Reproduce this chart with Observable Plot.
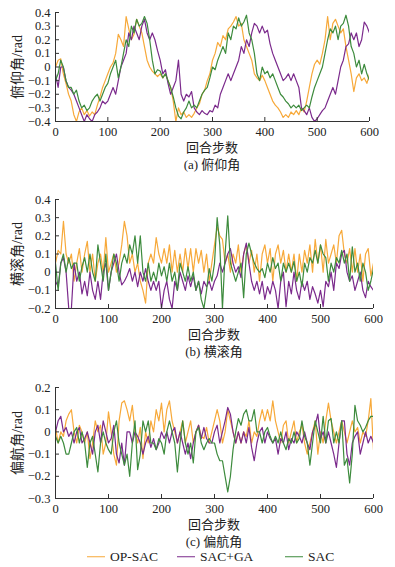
<!DOCTYPE html>
<html>
<head>
<meta charset="utf-8">
<script src="https://cdn.jsdelivr.net/npm/d3@7"></script>
<script src="https://cdn.jsdelivr.net/npm/@observablehq/plot@0.6"></script>
<style>
  html, body { margin: 0; padding: 0; background: #fff; }
  #root { position: relative; width: 395px; height: 567px; overflow: hidden; background: #fff;
          font-family: "Liberation Serif", "Times New Roman", "Noto Sans CJK SC", serif; color: #222; }
  .panel { position: absolute; left: 0; }
  .lbl { position: absolute; white-space: nowrap; transform: translate(-50%, -50%); line-height: 1; }
  .leg { position: absolute; top: 557px; transform: translateY(-50%); font-size: 13.5px; line-height: 1; white-space: nowrap; display: flex; align-items: center; }
  .leg i { display: inline-block; width: 18px; height: 0; border-top: 1.3px solid; margin-right: 5px; }
</style>
</head>
<body>
<div id="root"></div>
<script>
// ---------- data ----------
const steps = d3.range(0, 601, 5);
const seriesNames = ["OP-SAC", "SAC+GA", "SAC"];
const seriesColors = ["#f7a93a", "#7b2a8c", "#3d8b3d"];
const xTicks = [0, 100, 200, 300, 400, 500, 600];

// (a) 俯仰角 pitch
const pitchOP = [
  0, 0.05, 0.06, -0.05, -0.12, -0.2, -0.25, -0.35, -0.4, -0.33,
  -0.3, -0.35, -0.32, -0.36, -0.33, -0.35, -0.28, -0.22, -0.15, -0.1,
  -0.05, 0, 0.03, 0.1, 0.24, 0.2, 0.15, 0.37, 0.28, 0.2,
  0.24, 0.35, 0.3, 0.25, 0.15, 0.05, 0, -0.03, -0.05, -0.07,
  -0.05, -0.08, -0.05, -0.1, -0.15, -0.25, -0.4, -0.3, -0.35, -0.33,
  -0.37, -0.35, -0.37, -0.34, -0.3, -0.27, -0.2, -0.17, -0.1, -0.05,
  0.05, 0.1, 0.18, 0.15, 0.23, 0.2, 0.28, 0.3, 0.33, 0.37,
  0.3, 0.32, 0.2, 0.15, 0.1, 0.05, -0.05, -0.08, -0.1, -0.06,
  -0.1, -0.15, -0.2, -0.25, -0.28, -0.3, -0.33, -0.37, -0.35, -0.37,
  -0.33, -0.35, -0.32, -0.35, -0.3, -0.33, -0.25, -0.15, -0.05, 0.02,
  0.05, 0.02, 0.1, 0.2, 0.37, 0.2, 0.32, 0.35, 0.3, 0.25,
  0.28, 0.15, 0.05, -0.05, -0.18, -0.08, -0.05, -0.1, -0.08, -0.12,
  -0.05
];
const pitchGA = [
  -0.05, -0.15, 0, 0, -0.1, -0.15, -0.17, -0.2, -0.25, -0.3,
  -0.35, -0.4, -0.35, -0.38, -0.4, -0.35, -0.33, -0.3, -0.25, -0.27,
  -0.25, -0.2, -0.15, -0.2, -0.1, 0, 0.05, 0.1, 0.25, 0.2,
  0.3, 0.25, 0.2, 0.3, 0.35, 0.25, 0.2, 0.25, 0.2, 0.12,
  0.05, -0.05, -0.02, -0.12, -0.2, -0.15, -0.1, 0.05, -0.2, -0.25,
  -0.2, -0.22, -0.18, -0.3, -0.33, -0.35, -0.32, -0.34, -0.35, -0.32,
  -0.33, -0.28, -0.3, -0.2, -0.15, -0.1, -0.05, -0.1, -0.05, 0,
  0.05, 0.15, 0.1, 0.2, 0.15, 0.25, 0.32, 0.3, 0.25, 0.3,
  0.25, 0.27, 0.17, 0.1, 0.05, 0, -0.05, -0.1, -0.08, -0.05,
  -0.1, -0.05, -0.1, -0.15, -0.3, -0.32, -0.35, -0.3, -0.37, -0.4,
  -0.38, -0.35, -0.32, -0.3, -0.25, -0.2, -0.15, -0.2, -0.1, 0,
  0.05, 0.15, 0.17, 0.25, 0.2, 0.25, 0.15, 0.2, 0.33, 0.3,
  0.25
];
const pitchSAC = [
  -0.1, -0.05, 0.05, 0, -0.1, -0.15, -0.15, -0.2, -0.17, -0.25,
  -0.3, -0.28, -0.32, -0.3, -0.25, -0.22, -0.2, -0.25, -0.2, -0.15,
  -0.12, -0.05, 0, 0.05, -0.08, 0, 0.1, 0.2, 0.15, 0.3,
  0.25, 0.35, 0.3, 0.32, 0.37, 0.32, 0.2, 0.05, -0.05, -0.02,
  -0.03, -0.08, -0.05, -0.1, -0.15, -0.22, -0.3, -0.36, -0.38, -0.33,
  -0.3, -0.25, -0.3, -0.28, -0.3, -0.25, -0.2, -0.17, -0.15, -0.08,
  0, -0.02, 0.05, 0.1, 0.15, 0.1, 0.25, 0.2, 0.3, 0.28,
  0.36, 0.3, 0.33, 0.38, 0.25, 0.2, 0.1, -0.05, -0.1, 0,
  -0.05, -0.03, -0.08, -0.05, -0.1, -0.15, -0.2, -0.22, -0.25, -0.27,
  -0.3, -0.28, -0.3, -0.28, -0.32, -0.3, -0.28, -0.3, -0.22, -0.15,
  -0.1, -0.05, 0, 0.1, 0.2, 0.28, 0.25, 0.3, 0.2, 0.3,
  0.32, 0.38, 0.3, 0.15, 0.1, 0, 0.05, -0.05, 0.02, -0.05,
  -0.1
];

// (b) 横滚角 roll
const rollOP = [
  0.05, 0.12, 0.1, 0.28, 0.1, 0.05, 0.1, -0.05, 0.05, 0.13,
  0, 0.1, 0.17, 0, 0.1, -0.05, 0.05, 0.1, 0, 0.19,
  0, 0.05, 0.1, 0, 0.05, 0.15, 0.28, 0.2, 0.05, 0.1,
  0, 0.05, -0.05, -0.1, -0.17, 0.05, 0.1, 0.05, 0.19, 0.1,
  0.05, 0.13, 0.05, 0.15, 0, 0.12, 0, 0.1, 0, 0.13,
  0.02, 0.13, 0, 0.13, 0.05, 0.12, 0, 0.1, -0.05, 0.05,
  0.15, 0.25, 0.2, 0.18, 0.05, 0.1, 0, 0.1, 0.05, 0.15,
  0, 0.1, 0.15, 0.05, 0.12, 0, 0.1, -0.05, 0.1, 0.15,
  0.05, 0.13, -0.05, 0.1, 0.15, 0.05, 0.12, 0, 0.1, 0,
  0.1, -0.05, 0.1, 0, 0.12, 0.05, 0.15, 0, 0.18, 0.05,
  0.15, 0, 0.18, 0.05, 0.1, 0.15, 0.05, 0.2, 0.23, 0.1,
  0.05, 0.13, 0, 0.13, 0, 0.1, -0.05, 0.1, 0.13, -0.02,
  0.05
];
const rollGA = [
  -0.05, -0.08, 0.05, 0.08, 0, -0.2, -0.2, 0.05, -0.05, 0,
  -0.12, -0.05, -0.13, 0, -0.1, -0.15, -0.05, -0.15, 0, 0.05,
  -0.1, 0, 0.05, 0.1, 0, -0.07, -0.05, -0.02, 0.02, -0.05,
  0, -0.08, 0, -0.05, 0.02, -0.05, -0.1, -0.05, -0.1, -0.05,
  -0.2, -0.1, -0.05, -0.15, -0.2, -0.05, -0.1, 0, -0.05, -0.1,
  -0.02, -0.08, -0.02, -0.1, -0.05, -0.12, -0.05, -0.08, -0.05, -0.1,
  -0.05, -0.02, 0.05, 0, 0.05, 0.1, 0.13, 0.05, 0, 0.03,
  -0.03, 0.1, 0.16, 0.05, -0.05, -0.1, -0.05, -0.12, -0.05, -0.15,
  -0.08, -0.12, -0.05, -0.1, -0.2, -0.05, 0, -0.19, -0.05, -0.12,
  0, -0.1, -0.15, -0.05, -0.1, -0.05, -0.15, -0.08, -0.12, -0.17,
  -0.1, -0.19, -0.05, -0.08, 0, -0.1, 0.05, 0.02, 0.1, 0.12,
  0, -0.05, -0.02, -0.1, -0.05, 0, -0.1, -0.14, -0.05, -0.08,
  -0.1
];
const rollSAC = [
  0.05, -0.1, 0.05, 0.1, 0, 0.08, 0.02, 0.05, 0.05, -0.05,
  0.03, 0.08, 0, 0.1, 0, -0.05, 0.15, 0.05, -0.05, 0.1,
  -0.1, 0, 0.1, 0.05, -0.05, 0.05, 0.1, 0.05, 0.15, 0.1,
  0.2, 0.05, 0.2, 0, -0.05, 0.05, -0.05, 0, -0.05, 0.05,
  -0.02, 0.03, -0.05, 0.05, -0.05, 0, -0.1, 0.05, 0, -0.05,
  0.03, -0.05, 0, -0.1, -0.05, -0.15, -0.2, -0.1, 0.02, -0.05,
  0.05, 0.3, 0.15, -0.2, 0.1, 0.31, 0.05, 0, -0.05, 0,
  0.05, -0.14, 0.1, 0.16, 0.1, 0.05, 0.02, 0, 0.02, -0.03,
  0.05, 0, 0.08, 0.02, 0.05, -0.05, 0.05, 0, 0.05, 0,
  0.06, -0.05, 0, -0.08, 0.05, 0, 0.08, 0.05, 0.12, 0.05,
  0.15, 0.1, 0.08, -0.05, 0.05, 0, 0.08, 0.05, 0.12, 0.05,
  0.1, -0.05, 0.14, 0, 0.05, -0.05, 0.05, 0, -0.1, -0.05,
  0.02
];

// (c) 偏航角 yaw
const yawOP = [
  0.02, -0.05, 0, -0.02, 0.05, 0.08, 0.1, 0, -0.05, 0.03,
  0, -0.05, 0, -0.12, -0.05, 0.05, 0, 0.03, -0.1, -0.05,
  0.09, 0, -0.1, -0.15, 0.05, 0.13, 0.14, 0.1, 0.05, 0.12,
  0, -0.05, 0.02, -0.12, 0, -0.05, 0.05, 0, 0.1, 0.05,
  0.13, 0, 0.1, 0.14, 0.05, 0, -0.05, 0, 0.05, -0.05,
  0, 0.05, -0.05, 0, 0.03, -0.02, -0.03, 0.02, -0.05, 0,
  0.05, 0.1, 0.05, -0.05, 0, 0.1, 0.05, 0, -0.05, 0,
  -0.05, 0, -0.02, 0.05, -0.05, 0, -0.02, 0.05, 0.1, 0.05,
  0.1, 0.05, 0.14, 0.05, 0, -0.05, 0.03, 0.05, -0.05, 0,
  0.05, -0.05, 0, 0.03, -0.05, -0.1, -0.05, 0, 0.05, -0.1,
  0, -0.05, 0.05, 0.13, 0.05, 0, -0.05, 0, 0.05, 0,
  -0.05, 0, 0.05, 0, 0.02, -0.05, 0, -0.02, 0.05, 0.15,
  -0.08
];
const yawGA = [
  0, 0.05, 0.07, 0, 0.02, -0.02, 0, -0.05, 0, 0.02,
  -0.05, -0.03, 0, -0.05, -0.1, 0, 0.03, -0.05, 0.05, 0,
  -0.05, -0.03, 0.03, -0.1, -0.14, -0.05, -0.15, 0, 0, -0.05,
  0, -0.02, -0.05, -0.1, -0.05, -0.02, -0.07, -0.03, -0.08, -0.05,
  0, -0.03, 0, -0.05, 0, 0.02, -0.05, 0, -0.05, -0.1,
  -0.05, -0.12, -0.05, 0, 0.03, -0.03, 0.02, -0.03, -0.05, -0.05,
  0, 0.03, -0.05, 0, 0.05, 0.11, 0.08, 0, -0.05, 0,
  -0.05, 0, -0.05, 0.02, -0.07, -0.13, -0.05, 0, 0.02, -0.05,
  0, -0.03, -0.05, -0.03, -0.1, -0.03, -0.05, 0, -0.08, -0.03,
  -0.05, 0, -0.02, -0.05, 0, -0.05, -0.08, 0, 0.03, 0.08,
  -0.03, 0, -0.05, 0, -0.05, -0.1, -0.16, -0.05, 0.05, 0.05,
  -0.1, -0.15, -0.05, -0.02, 0, -0.1, -0.05, 0, -0.05, -0.02,
  -0.05
];
const yawSAC = [
  -0.02, -0.05, -0.02, -0.05, -0.1, -0.1, -0.05, 0, 0.02, -0.05,
  0, -0.05, -0.16, -0.05, -0.02, -0.1, -0.18, -0.05, 0, -0.05,
  -0.08, -0.1, 0, 0.05, -0.05, -0.1, -0.15, -0.1, -0.2, -0.05,
  0.05, -0.17, -0.1, 0.05, 0, 0.05, -0.05, -0.05, -0.08, -0.03,
  -0.05, -0.1, 0, 0.05, 0, -0.05, -0.18, -0.05, 0.05, -0.05,
  -0.1, -0.05, -0.14, 0, 0.02, -0.05, -0.08, -0.05, -0.03, -0.05,
  -0.05, -0.1, -0.13, -0.13, -0.2, -0.27, -0.2, -0.08, 0, 0.06,
  0.03, 0.08, 0.1, 0.05, 0.05, 0.1, 0, 0, -0.05, 0,
  0.02, -0.02, -0.05, -0.02, -0.05, 0, -0.05, -0.08, -0.03, -0.05,
  0, -0.05, -0.03, 0.05, -0.02, -0.05, -0.15, -0.05, 0.05, 0,
  -0.05, 0.07, -0.05, 0.05, 0.06, -0.05, 0, -0.05, 0.05, -0.15,
  -0.12, -0.23, -0.1, 0.12, 0.05, 0.03, 0, 0.02, 0.05, 0.07,
  0.07
];

const pitchTicks = [-0.4, -0.3, -0.2, -0.1, 0, 0.1, 0.2, 0.3, 0.4];
const rollTicks = [-0.2, -0.1, 0, 0.1, 0.2, 0.3, 0.4];
const yawTicks = [-0.3, -0.2, -0.1, 0, 0.1, 0.2];

const panels = [
  {top: 0,   mt: 12, mb: 19, mr: 26, ylabel: "俯仰角/rad", caption: "(a) 俯仰角", ticks: pitchTicks, series: [pitchOP, pitchGA, pitchSAC]},
  {top: 187, mt: 12, mb: 19, mr: 22, ylabel: "横滚角/rad", caption: "(b) 横滚角", ticks: rollTicks,  series: [rollOP, rollGA, rollSAC]},
  {top: 375, mt: 12, mb: 17, mr: 22, ylabel: "偏航角/rad", caption: "(c) 偏航角", ticks: yawTicks,   series: [yawOP, yawGA, yawSAC]}
];
const xTitle = "回合步数";

// ---------- render ----------
const FONT = '"Liberation Serif", "Times New Roman", "Noto Sans CJK SC", serif';
const fmt = d => d === 0 ? "0" : d3.format(".1f")(d);
const root = document.getElementById("root");
const H = 140;

function addLabel(text, x, y, size) {
  const el = document.createElement("div");
  el.className = "lbl";
  el.textContent = text;
  el.style.left = x + "px";
  el.style.top = y + "px";
  el.style.fontSize = size + "px";
  root.appendChild(el);
}

panels.forEach(p => {
  const y0 = p.ticks[0], y1 = p.ticks[p.ticks.length - 1];
  const chart = Plot.plot({
    width: 395, height: H,
    marginLeft: 55, marginRight: p.mr, marginTop: p.mt, marginBottom: p.mb,
    style: {fontFamily: FONT, fontSize: "12.5px", color: "#222", background: "transparent", overflow: "visible"},
    x: {domain: [0, 600]},
    y: {domain: [y0, y1]},
    marks: [
      ...p.series.map((vals, i) => Plot.line(vals, {
        x: steps, y: vals, stroke: seriesColors[i], strokeWidth: 1.2, clip: true
      })),
      Plot.ruleX([0], {stroke: "#333", strokeWidth: 1}),
      Plot.ruleY([y0], {stroke: "#333", strokeWidth: 1}),
      Plot.axisX(xTicks, {tickSize: -4, tickPadding: 10, label: null, stroke: "#333", fill: "#222"}),
      Plot.axisY(p.ticks, {tickSize: -4, tickPadding: 9, tickFormat: fmt, label: null, stroke: "#333", fill: "#222"}),
      Plot.text([p.ylabel], {frameAnchor: "left", text: d => d, rotate: -90, dx: -38, lineAnchor: "middle", textAnchor: "middle", fontSize: 14, fill: "#222"})
    ]
  });
  chart.classList.add("panel");
  chart.style.top = p.top + "px";
  root.appendChild(chart);
  const axisY = p.top + H - p.mb;
  const cx = 55 + (395 - p.mr - 55) / 2;
  addLabel(xTitle, cx, axisY + 26, 13);
  addLabel(p.caption, cx, axisY + 43, 13);
});

// legend
const legendPos = [87, 177, 285];
seriesNames.forEach((name, i) => {
  const el = document.createElement("div");
  el.className = "leg";
  el.style.left = legendPos[i] + "px";
  const sw = document.createElement("i");
  sw.style.borderTopColor = seriesColors[i];
  el.appendChild(sw);
  el.appendChild(document.createTextNode(name));
  root.appendChild(el);
});
</script>
</body>
</html>
